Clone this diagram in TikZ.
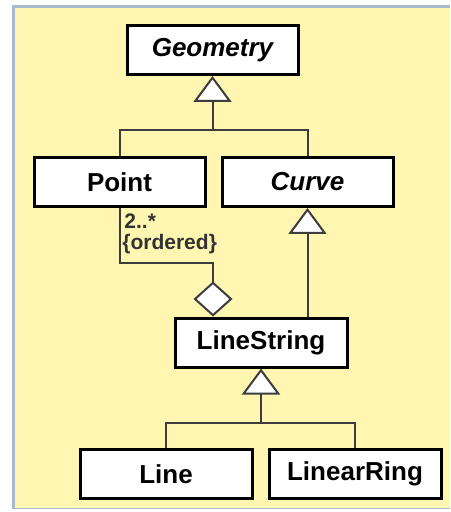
\documentclass[tikz,border=0pt]{standalone}
\usepackage{fontspec}
\setmainfont{Liberation Sans}
\usetikzlibrary{arrows.meta}

\definecolor{umlbg}{RGB}{255,246,178}
\definecolor{umlframe}{RGB}{168,186,206}
\definecolor{umlline}{RGB}{60,60,60}

\tikzset{
    classbox/.style={draw=black, line width=1.5pt, fill=white, minimum height=24.5pt,
        minimum width=85.5pt, inner sep=0pt, font=\fontsize{13}{15}\selectfont\bfseries},
    abstract/.style={font=\fontsize{13}{15}\selectfont\bfseries\itshape},
    inherit/.style={draw=umlline, line width=1pt,
        -{Triangle[fill=white, width=19pt, length=13pt, line width=1pt]}},
    aggregate/.style={draw=umlline, line width=1pt,
        {Diamond[fill=white, width=19.5pt, length=17.5pt, line width=1pt]}-},
    branch/.style={draw=umlline, line width=1pt},
    rolelabel/.style={inner sep=0pt, font=\fontsize{10.5}{12}\selectfont\bfseries, text=black!80}
}

\begin{document}
\begin{tikzpicture}[x=0.5pt, y=-0.5pt]

    % frame
    \useasboundingbox (0,0) rectangle (450,512);
    \fill[umlframe] (12,5) rectangle (450,509);
    \fill[umlbg] (15,8) rectangle (450,508);

    % classes
    \node[classbox, abstract] (geom) at (212.5,50) {Geometry};
    \node[classbox] (point) at (119.5,182) {Point};
    \node[classbox, abstract] (curve) at (307.5,182) {Curve};
    \node[classbox, minimum width=86pt] (linestr) at (261,342.5) {LineString};
    \node[classbox, minimum width=86pt] (line) at (166,474) {Line};
    \node[classbox, minimum width=86pt] (ring) at (355,474) {LinearRing};

    % junctions
    \coordinate (topjoin) at (212.5,130);
    \coordinate (botjoin) at (261,423);
    \coordinate (agg) at (213,263);

    % generalisations
    \draw[inherit] (topjoin) -- (geom.south);
    \draw[branch] (point.north) |- (topjoin) -| (curve.north);
    \draw[inherit] (linestr.north -| curve.south) -- (curve.south);
    \draw[inherit] (botjoin) -- (linestr.south);
    \draw[branch] (line.north) |- (botjoin) -| (ring.north);

    % aggregation
    \draw[aggregate] (agg |- linestr.north) -- (agg) -| (point.south);
    \node[rolelabel, anchor=base west] (mult) at (124,229) {2..*};
    \node[rolelabel, anchor=base west] (ordr) at (122,250) {\{ordered\}};

\end{tikzpicture}
\end{document}
